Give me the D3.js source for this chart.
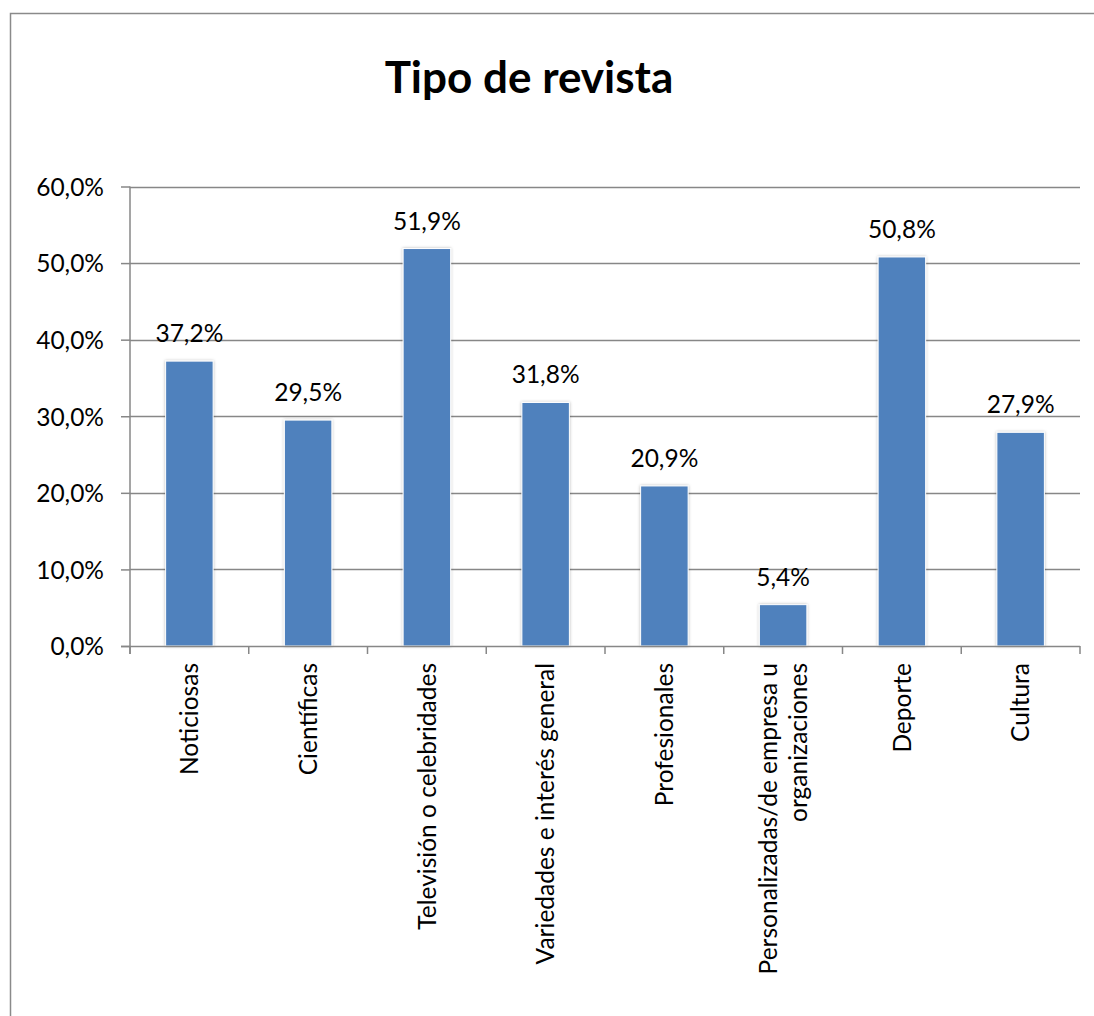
<!DOCTYPE html>
<html>
<head>
<meta charset="utf-8">
<script src="https://cdn.jsdelivr.net/npm/d3@7"></script>
<style>
  html, body { margin: 0; padding: 0; background: #fff; overflow: hidden; }
  svg { display: block; }
  text { font-family: Lato, "Open Sans", sans-serif; fill: #000; }
</style>
</head>
<body>
<svg id="chart" width="1094" height="1016"></svg>
<script>
// Categories (line breaks marked with "|")
const categories = [
  "Noticiosas",
  "Científicas",
  "Televisión o celebridades",
  "Variedades e interés general",
  "Profesionales",
  "Personalizadas/de empresa u|organizaciones",
  "Deporte",
  "Cultura"
];
// Share of respondents, percent
const values = [37.2, 29.5, 51.9, 31.8, 20.9, 5.4, 50.8, 27.9];
const yTicks = [0, 10, 20, 30, 40, 50, 60];
const title = "Tipo de revista";

const svg = d3.select("#chart");
const plot = { left: 130, right: 1080, top: 186.5, bottom: 646 };
const gridColor = "#878787";
const barColor = "#4F81BD";
const fs = 24.5;
const fmt = v => d3.format(".1f")(v).replace(".", ",") + "%";

// Outer chart frame (continues past the right and bottom edges)
svg.append("path")
  .attr("d", "M10.5,1100V13.5H1200")
  .attr("fill", "none").attr("stroke", "#8a8a8a").attr("stroke-width", 1.5);

const x = d3.scaleBand().domain(categories).range([plot.left, plot.right])
  .paddingInner(0.6).paddingOuter(0.3);
const y = d3.scaleLinear().domain([0, 60]).range([plot.bottom, plot.top]);

// Bar shadow
const defs = svg.append("defs");
const f = defs.append("filter").attr("id", "shadow")
  .attr("x", "-20%").attr("y", "-10%").attr("width", "140%").attr("height", "120%");
f.append("feDropShadow").attr("dx", 0).attr("dy", 0).attr("stdDeviation", 1.6)
  .attr("flood-color", "#000").attr("flood-opacity", 0.28);

// Horizontal gridlines
svg.append("g").selectAll("line").data(yTicks.filter(t => t > 0)).join("line")
  .attr("x1", plot.left).attr("x2", plot.right)
  .attr("y1", d => Math.round(y(d)) + 0.5).attr("y2", d => Math.round(y(d)) + 0.5)
  .attr("stroke", gridColor).attr("stroke-width", 1.5);

// Y axis
const yAxis = svg.append("g").attr("transform", `translate(${plot.left},0)`)
  .call(d3.axisLeft(y).tickValues(yTicks).tickSize(9).tickPadding(17).tickFormat(fmt));
yAxis.select(".domain").attr("stroke", gridColor).attr("stroke-width", 1.5)
  .attr("d", `M0,${y(60)}V${y(0) + 8}`);
yAxis.selectAll(".tick line").attr("stroke", gridColor).attr("stroke-width", 1.5);
yAxis.selectAll(".tick text").attr("font-size", fs).attr("font-family", "Lato")
  .attr("fill", "#000").attr("dy", "0.36em");

// Bars
svg.append("g").selectAll("rect").data(values).join("rect")
  .attr("x", (d, i) => x(categories[i]))
  .attr("width", x.bandwidth())
  .attr("y", d => y(d))
  .attr("height", d => y(0) - y(d))
  .attr("fill", barColor)
  .attr("stroke", "#fff").attr("stroke-width", 1)
  .attr("filter", "url(#shadow)");

// X axis with category dividers
const xAxisG = svg.append("g").attr("transform", `translate(0,${plot.bottom})`);
xAxisG.append("line").attr("x1", plot.left - 9).attr("x2", plot.right)
  .attr("y1", 0.5).attr("y2", 0.5).attr("stroke", gridColor).attr("stroke-width", 1.5);
const step = x.step();
const dividers = d3.range(categories.length + 1).map(i => plot.left + i * step);
xAxisG.selectAll(".div").data(dividers).join("line")
  .attr("x1", d => d).attr("x2", d => d).attr("y1", 0).attr("y2", 8)
  .attr("stroke", gridColor).attr("stroke-width", 1.5);

// Rotated category labels
const lineH = 30;
categories.forEach((c, i) => {
  const lines = c.split("|");
  const cx = x(c) + x.bandwidth() / 2;
  lines.forEach((ln, j) => {
    const off = (j - (lines.length - 1) / 2) * lineH;
    svg.append("text")
      .attr("transform", `translate(${cx + off},${plot.bottom + 17}) rotate(-90)`)
      .attr("text-anchor", "end")
      .attr("dy", "0.36em")
      .attr("font-size", fs)
      .text(ln);
  });
});

// Value labels
svg.append("g").selectAll("text").data(values).join("text")
  .attr("x", (d, i) => x(categories[i]) + x.bandwidth() / 2)
  .attr("y", d => y(d) - 19)
  .attr("text-anchor", "middle")
  .attr("font-size", fs)
  .text(d => fmt(d));

// Title
svg.append("text")
  .attr("x", 529).attr("y", 93)
  .attr("text-anchor", "middle")
  .attr("font-size", 44).attr("font-weight", 700)
  .text(title);
</script>
</body>
</html>
